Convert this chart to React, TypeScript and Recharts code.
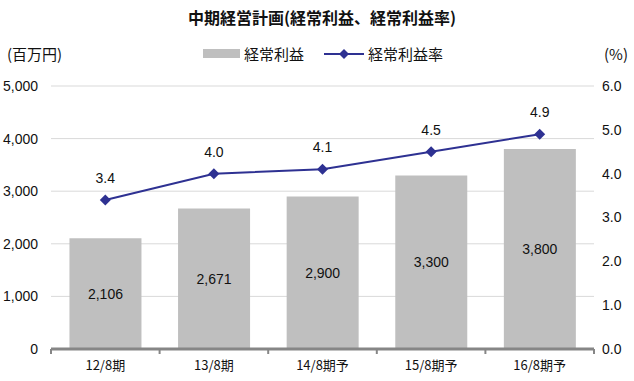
import React from 'react';
import {
  ComposedChart,
  Bar,
  Line,
  XAxis,
  YAxis,
  CartesianGrid,
  LabelList,
} from 'recharts';

const periods = ['12/8期', '13/8期', '14/8期予', '15/8期予', '16/8期予'];
const ordinaryProfit = [2106, 2671, 2900, 3300, 3800];
const profitRate = [3.4, 4.0, 4.1, 4.5, 4.9];
const leftTicks = [0, 1000, 2000, 3000, 4000, 5000];
const rightTicks = [0, 1, 2, 3, 4, 5, 6];

const data = periods.map((name, i) => ({
  name,
  profit: ordinaryProfit[i],
  rate: profitRate[i],
}));

const BAR_COLOR = '#bfbfbf';
const LINE_COLOR = '#2e3192';
const NUM_FONT = '"Liberation Sans", Arial, sans-serif';
const JP_FONT = '"Noto Sans CJK JP", sans-serif';

const Diamond = (props: any) => {
  const { cx, cy } = props;
  if (cx == null || cy == null) return null;
  const r = 5.5;
  return (
    <polygon
      points={`${cx},${cy - r} ${cx + r},${cy} ${cx},${cy + r} ${cx - r},${cy}`}
      fill={LINE_COLOR}
    />
  );
};

// category tick: label at centre, small tick marks on the category borders
const PeriodTick = (props: any) => {
  const { x, y, payload, index, visibleTicksCount, width } = props;
  const bw = width / visibleTicksCount;
  const left = x - bw / 2;
  return (
    <g>
      <line x1={left} y1={y - 8} x2={left} y2={y - 3} stroke="#868686" strokeWidth={2} />
      {index === visibleTicksCount - 1 && (
        <line x1={x + bw / 2} y1={y - 8} x2={x + bw / 2} y2={y - 3} stroke="#868686" strokeWidth={2} />
      )}
      <text x={x} y={y + 13} textAnchor="middle" fontSize={13} fontFamily={JP_FONT} fill="#111">
        {payload.value}
      </text>
    </g>
  );
};

const App: React.FC = () => {
  return (
    <div
      style={{
        position: 'absolute',
        left: 0,
        top: 0,
        width: 634,
        height: 381,
        background: '#fff',
        fontFamily: JP_FONT,
        color: '#111',
      }}
    >
      <div
        style={{
          position: 'absolute',
          left: 0,
          width: 644,
          top: 5,
          textAlign: 'center',
          fontSize: 16,
          fontWeight: 'bold',
        }}
      >
        中期経営計画(経常利益、経常利益率)
      </div>
      <div style={{ position: 'absolute', left: 7, top: 43, fontSize: 15 }}>(百万円)</div>
      <div style={{ position: 'absolute', left: 604, top: 43, fontSize: 15 }}>(%)</div>

      {/* legend */}
      <div
        style={{
          position: 'absolute',
          left: 203,
          top: 43,
          display: 'flex',
          alignItems: 'center',
          fontSize: 15,
        }}
      >
        <span style={{ display: 'inline-block', width: 37, height: 9, background: BAR_COLOR }} />
        <span style={{ marginLeft: 4 }}>経常利益</span>
        <svg width={40} height={12} style={{ marginLeft: 20 }}>
          <line x1={0} y1={6} x2={40} y2={6} stroke={LINE_COLOR} strokeWidth={2} />
          <polygon points="20,1 25,6 20,11 15,6" fill={LINE_COLOR} />
        </svg>
        <span style={{ marginLeft: 4 }}>経常利益率</span>
      </div>

      <ComposedChart
        width={634}
        height={381}
        data={data}
        margin={{ top: 86, right: 0, bottom: 0, left: 0 }}
        barCategoryGap="17%"
      >
        <CartesianGrid yAxisId="left" vertical={false} stroke="#d9d9d9" />
        <XAxis
          dataKey="name"
          height={32}
          axisLine={{ stroke: '#868686', strokeWidth: 3 }}
          tickLine={false}
          tick={<PeriodTick />}
          interval={0}
        />
        <YAxis
          yAxisId="left"
          width={51}
          domain={[0, 5000]}
          ticks={leftTicks}
          axisLine={false}
          tickLine={false}
          tickSize={0}
          tickMargin={13}
          tickFormatter={(v: number) => v.toLocaleString('en-US')}
          tick={{ fontSize: 14, fill: '#111', fontFamily: NUM_FONT }}
        />
        <YAxis
          yAxisId="right"
          orientation="right"
          width={40}
          domain={[0, 6]}
          ticks={rightTicks}
          axisLine={false}
          tickLine={false}
          tickSize={0}
          tickMargin={8}
          tickFormatter={(v: number) => v.toFixed(1)}
          tick={{ fontSize: 14, fill: '#111', fontFamily: NUM_FONT }}
        />
        <Bar yAxisId="left" dataKey="profit" fill={BAR_COLOR} isAnimationActive={false}>
          <LabelList
            dataKey="profit"
            position="center"
            formatter={(v: any) => Number(v).toLocaleString('en-US')}
            style={{ fontSize: 14, fill: '#111', fontFamily: NUM_FONT }}
          />
        </Bar>
        <Line
          yAxisId="right"
          dataKey="rate"
          stroke={LINE_COLOR}
          strokeWidth={2}
          dot={<Diamond />}
          activeDot={false}
          isAnimationActive={false}
        >
          <LabelList
            dataKey="rate"
            position="top"
            offset={17}
            formatter={(v: any) => Number(v).toFixed(1)}
            style={{ fontSize: 14, fill: '#111', fontFamily: NUM_FONT }}
          />
        </Line>
      </ComposedChart>
    </div>
  );
};

export default App;
